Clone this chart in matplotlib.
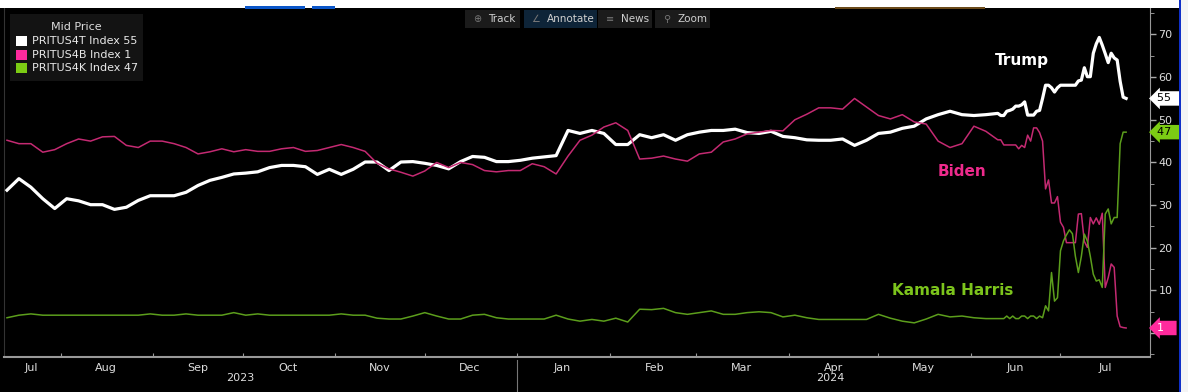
import numpy as np
import pandas as pd
import matplotlib
matplotlib.use('Agg')
import matplotlib.pyplot as plt
import matplotlib.dates as mdates
import matplotlib.transforms as mtransforms
from matplotlib.patches import Rectangle
from matplotlib.ticker import FixedLocator, MultipleLocator

# sampling: every 4 days up to Jun 10 2024, then daily to Jul 23 2024
dates_a = pd.date_range('2023-07-14', '2024-06-10', freq='4D')
dates_b = pd.date_range('2024-06-11', '2024-07-23', freq='D')

trump_a = [33.5, 36.2, 34.2, 31.5, 29.2, 31.5, 31.0, 30.1, 30.1, 29.0,
           29.5, 31.1, 32.2, 32.2, 32.2, 33.0, 34.6, 35.8, 36.5, 37.3,
           37.5, 37.8, 38.8, 39.3, 39.3, 39.0, 37.2, 38.4, 37.2, 38.4,
           40.1, 40.1, 38.1, 40.1, 40.2, 39.8, 39.3, 38.5, 40.2, 41.4,
           41.2, 40.2, 40.2, 40.5, 41.0, 41.3, 41.6, 47.5, 46.8, 47.5,
           46.8, 44.2, 44.2, 46.5, 45.8, 46.5, 45.2, 46.5, 47.1, 47.5,
           47.5, 47.8, 47.0, 46.8, 47.3, 46.1, 45.8, 45.3, 45.2, 45.2,
           45.5, 44.0, 45.2, 46.8, 47.1, 48.0, 48.5, 50.2, 51.2, 52.0,
           51.2, 51.0, 51.2, 51.5]
trump_b = [51.0, 51.0, 52.0, 52.2, 52.5, 53.2, 53.2, 53.5, 54.2, 51.1,
           51.1, 51.1, 52.0, 52.2, 55.0, 58.1, 58.1, 57.5, 56.5, 57.5,
           58.1, 58.1, 58.1, 58.1, 58.1, 58.1, 59.1, 59.3, 62.2, 60.1,
           60.1, 65.6, 67.8, 69.3, 67.5, 65.5, 63.4, 65.6, 64.5, 64.0,
           59.0, 55.3, 55.0]

biden_a = [45.2, 44.4, 44.4, 42.4, 43.0, 44.4, 45.5, 45.0, 46.0, 46.1,
           44.0, 43.5, 45.0, 45.0, 44.4, 43.5, 42.0, 42.5, 43.2, 42.5,
           43.0, 42.6, 42.6, 43.2, 43.5, 42.6, 42.8, 43.5, 44.2, 43.5,
           42.6, 39.8, 38.5, 37.7, 36.8, 38.0, 40.0, 38.8, 40.0, 39.5,
           38.1, 37.8, 38.1, 38.1, 39.7, 39.0, 37.3, 41.5, 45.2, 46.4,
           48.3, 49.3, 47.5, 40.8, 41.0, 41.5, 40.8, 40.3, 42.0, 42.4,
           44.8, 45.5, 46.7, 47.1, 47.5, 47.4, 50.0, 51.3, 52.8, 52.8,
           52.5, 55.0, 53.0, 51.0, 50.2, 51.2, 49.5, 49.0, 45.0, 43.5,
           44.4, 48.5, 47.3, 45.3]
biden_b = [45.3, 44.1, 44.1, 44.1, 44.1, 44.1, 43.2, 44.0, 43.5, 46.4,
           45.0, 48.1, 48.1, 47.0, 45.0, 33.8, 35.9, 30.5, 30.5, 32.0,
           26.0, 24.8, 21.2, 21.2, 21.2, 21.2, 27.9, 28.0, 21.5, 20.1,
           27.1, 25.6, 27.0, 25.5, 28.1, 10.7, 13.0, 16.2, 15.4, 4.0,
           1.5, 1.3, 1.2]

harris_a = [3.6, 4.2, 4.5, 4.2, 4.2, 4.2, 4.2, 4.2, 4.2, 4.2,
            4.2, 4.2, 4.5, 4.2, 4.2, 4.5, 4.2, 4.2, 4.2, 4.8,
            4.2, 4.5, 4.2, 4.2, 4.2, 4.2, 4.2, 4.2, 4.5, 4.2,
            4.2, 3.5, 3.3, 3.3, 4.0, 4.8, 4.0, 3.3, 3.3, 4.2,
            4.4, 3.6, 3.3, 3.3, 3.3, 3.3, 4.2, 3.3, 2.8, 3.2,
            2.8, 3.5, 2.6, 5.6, 5.5, 5.8, 4.8, 4.4, 4.8, 5.2,
            4.4, 4.4, 4.8, 5.0, 4.8, 3.8, 4.2, 3.6, 3.2, 3.2,
            3.2, 3.2, 3.2, 4.4, 3.5, 2.8, 2.4, 3.3, 4.4, 3.8,
            4.0, 3.6, 3.4, 3.4]
harris_b = [3.4, 3.4, 4.0, 3.4, 4.0, 3.4, 3.4, 4.0, 4.0, 3.4,
            4.0, 4.0, 3.4, 4.0, 3.6, 6.4, 5.2, 14.2, 7.5, 8.3,
            19.3, 21.6, 23.0, 24.2, 23.3, 18.0, 14.2, 18.0, 23.2, 21.6,
            18.0, 13.8, 12.2, 12.5, 10.7, 27.9, 29.1, 25.6, 27.1, 27.1,
            44.4, 47.1, 47.1]

dates = dates_a.append(dates_b)
trump = np.array(trump_a + trump_b)
biden = np.array(biden_a + biden_b)
harris = np.array(harris_a + harris_b)

tickers = ['PRITUS4T Index', 'PRITUS4B Index', 'PRITUS4K Index']
names = ['Trump', 'Biden', 'Kamala Harris']
line_colors = ['#ffffff', '#c42a72', '#5c9e1c']
swatch_colors = ['#ffffff', '#ff2a9d', '#7ccc14']
text_colors = ['#ffffff', '#ee2a8c', '#7cc41c']

month_labels = ['Jul', 'Aug', 'Sep', 'Oct', 'Nov', 'Dec', 'Jan',
                'Feb', 'Mar', 'Apr', 'May', 'Jun', 'Jul']
month_label_dates = pd.to_datetime(['2023-07-22'] + [f'{y}-{m:02d}-16' for y, m in
                                   [(2023, 8), (2023, 9), (2023, 10), (2023, 11), (2023, 12),
                                    (2024, 1), (2024, 2), (2024, 3), (2024, 4), (2024, 5),
                                    (2024, 6), (2024, 7)]])
year_labels = ['2023', '2024']
year_label_dates = pd.to_datetime(['2023-09-30', '2024-04-15'])

W, H = 1188, 392
fig = plt.figure(figsize=(W / 100, H / 100), dpi=100, facecolor='black')
ax = fig.add_axes([4 / W, 1 - 357 / H, (1150 - 4) / W, (357 - 8) / H])
ax.set_facecolor('black')

ax.plot(dates, trump, color=line_colors[0], lw=2.3, zorder=3)
ax.plot(dates, biden, color=line_colors[1], lw=1.1, zorder=4)
ax.plot(dates, harris, color=line_colors[2], lw=1.1, zorder=4)

ax.set_xlim(pd.Timestamp('2023-07-13'), pd.Timestamp('2024-07-31'))
ax.set_ylim(-5.6, 76.2)

# x axis: month boundaries as ticks, names centred in the month
ax.xaxis.set_major_locator(mdates.MonthLocator())
ax.xaxis.set_major_formatter(plt.NullFormatter())
ax.xaxis.set_minor_locator(FixedLocator(mdates.date2num(month_label_dates)))
ax.xaxis.set_minor_formatter(plt.FixedFormatter(month_labels))
ax.tick_params(axis='x', which='major', direction='in', length=3, color='#999999')
ax.tick_params(axis='x', which='minor', length=0, pad=4, labelsize=8, labelcolor='#dddddd')

trans_x = mtransforms.blended_transform_factory(ax.transData, ax.transAxes)
for lab, d in zip(year_labels, year_label_dates):
    ax.text(d, -0.047, lab, transform=trans_x, ha='center', va='top',
            color='#dddddd', fontsize=8)
ax.plot([pd.Timestamp('2024-01-01')] * 2, [-0.01, -0.11], transform=trans_x,
        color='#777777', lw=0.8, clip_on=False)

# y axis on the right
ax.yaxis.tick_right()
ax.yaxis.set_major_locator(FixedLocator(range(0, 80, 10)))
ax.yaxis.set_major_formatter(plt.FixedFormatter([''] + [str(v) for v in range(10, 80, 10)]))
ax.yaxis.set_minor_locator(MultipleLocator(5))
ax.tick_params(axis='y', which='major', direction='out', length=4, width=1,
               color='#aaaaaa', labelsize=8, labelcolor='#dddddd', pad=2)
ax.tick_params(axis='y', which='minor', direction='out', length=3, color='#aaaaaa')

ax.spines['top'].set_visible(False)
ax.spines['left'].set_color('#333333')
ax.spines['right'].set_color('#999999')
ax.spines['bottom'].set_color('#999999')
ax.spines['bottom'].set_linewidth(1.5)

# last value tags on the right axis
trans_y = mtransforms.blended_transform_factory(ax.transAxes, ax.transData)
last_vals = [trump[-1], biden[-1], harris[-1]]
tag_fc = ['#ffffff', '#ff2a9d', '#7ccc14']
tag_tc = ['#000000', '#ffffff', '#000000']
for v, fc, tc in zip(last_vals, tag_fc, tag_tc):
    ax.text(1.006, v, f'{v:.0f}'.ljust(4), transform=trans_y, ha='left', va='center',
            fontsize=8, color=tc, zorder=10, clip_on=False,
            bbox=dict(boxstyle='larrow,pad=0.2', fc=fc, ec='none'))

# direct labels
ax.text(pd.Timestamp('2024-06-18'), 64, names[0], color=text_colors[0],
        fontsize=11, fontweight='bold', ha='center', va='center')
ax.text(pd.Timestamp('2024-05-29'), 37.9, names[1], color=text_colors[1],
        fontsize=11, fontweight='bold', ha='center', va='center')
ax.text(pd.Timestamp('2024-05-26'), 10.1, names[2], color=text_colors[2],
        fontsize=11, fontweight='bold', ha='center', va='center')


def fx(x):
    return x / W


def fy(y):
    return 1 - y / H


def frect(x0, y0, x1, y1, color, z=1):
    fig.patches.append(Rectangle((fx(x0), fy(y1)), fx(x1 - x0), (y1 - y0) / H,
                                 transform=fig.transFigure, fc=color, ec='none', zorder=z))


# terminal chrome: white strip on top, blue border on the right
frect(0, 0, W, 8, '#ffffff')
frect(245, 6, 305, 9, '#0a55c8', 2)
frect(312, 6, 335, 9, '#0a55c8', 2)
frect(835, 7, 985, 9, '#6b4a1a', 2)
frect(1179, 0, 1181, H, '#1030c8', 2)
frect(1181, 0, W, H, '#f4f4f4', 2)

# legend box
frect(10, 14, 143, 81, '#131313', 3)
fig.text(fx(76), fy(27), 'Mid Price', color='#dddddd', fontsize=8, ha='center', va='center', zorder=4)
for i, (tk, val, sc) in enumerate(zip(tickers, last_vals, swatch_colors)):
    yc = 41 + i * 13.5
    frect(16, yc - 5, 27, yc + 5, sc, 4)
    fig.text(fx(32), fy(yc), f'{tk} {val:.0f}', color='#e8e8e8', fontsize=8,
             ha='left', va='center', zorder=4)

# toolbar
tools = [('\u2295', 'Track', 465, 520, '#1b1b1b'),
         ('\u2220', 'Annotate', 524, 597, '#0e2438'),
         ('\u2261', 'News', 598, 652, '#1b1b1b'),
         ('\u26b2', 'Zoom', 655, 710, '#1b1b1b')]
for icon, lab, x0, x1, bg in tools:
    frect(x0, 10, x1, 28, bg, 3)
    fig.text(fx(x0 + 12), fy(19), icon, color='#777777', fontsize=7, ha='center', va='center', zorder=4)
    fig.text(fx(x0 + 23), fy(19), lab, color='#d0d0d0', fontsize=7.5, ha='left', va='center', zorder=4)

fig.savefig('out.png', dpi=100, facecolor='black')
